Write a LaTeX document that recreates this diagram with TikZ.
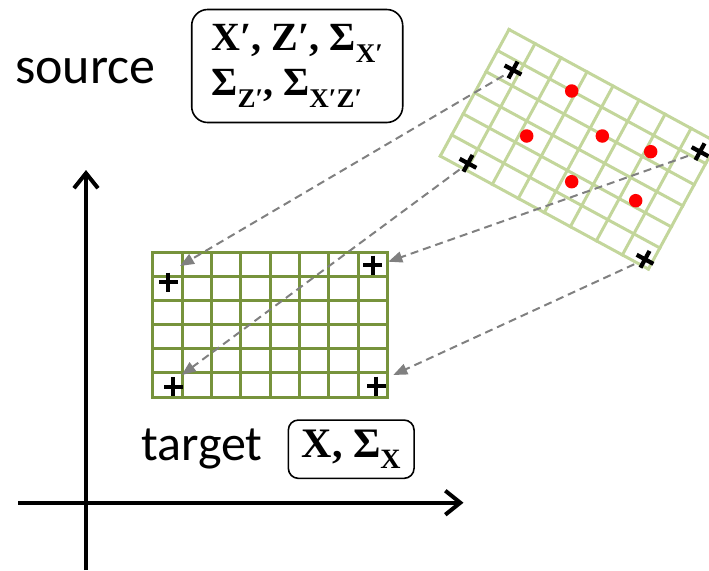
\documentclass[tikz,border=0pt]{standalone}
\usepackage{fontspec}
\setmainfont{Carlito}
\newfontfamily\tmsfont{Liberation Serif}
\usetikzlibrary{arrows.meta}
\definecolor{tgreen}{HTML}{77933C}
\definecolor{sgreen}{HTML}{C3D69B}
\definecolor{dgray}{HTML}{808080}
\definecolor{dotred}{HTML}{FF0000}
\newcommand\subx[2][27]{\raisebox{-0.28em}{\fontsize{#1}{#1}\selectfont #2}}
\begin{document}
\begin{tikzpicture}[x=1pt,y=-1pt,
  lbl/.style={inner sep=0pt},
  mbox/.style={draw, line width=1.6pt, inner sep=0pt},
  tgridline/.style={draw=tgreen, line width=3pt, line cap=rect},
  sgridline/.style={draw=sgreen, line width=3pt, line cap=rect},
  axis/.style={line width=4pt, -{Straight Barb[length=15pt, width=24pt]}},
  corr/.style={draw=dgray, line width=2pt, dash pattern=on 8pt off 5pt, -{Triangle[length=14pt, width=11pt]}},
  plusmark/.style={minimum size=19pt, inner sep=0pt, outer sep=0pt},
  plusline/.style={line width=4.2pt},
  reddot/.style={circle, fill=dotred, minimum size=13.5pt, inner sep=0pt}]
\useasboundingbox (0,0) rectangle (709,570);

% axes
\coordinate (ybot) at (86,570);
\coordinate (ytop) at (86,170);
\coordinate (xleft) at (18,502.7);
\coordinate (xright) at (463.5,502.7);
\draw[axis] (ybot) -- (ytop);
\draw[axis] (xleft) -- (xright);

% labels
\node[lbl, anchor=base west, font=\fontsize{52}{52}\selectfont] (src) at (15,83) {source};
\node[lbl, anchor=base west, font=\fontsize{50}{50}\selectfont] (tgt) at (141,460) {target};
\node[mbox, rounded corners=16pt, minimum width=211pt, minimum height=113pt, align=left,
      font=\tmsfont\bfseries\fontsize{40}{45}\selectfont] (sbox) at (297.2,66)
  {X′, Z′, Σ\subx{X′}\\Σ\subx{Z′}, Σ\subx{X′Z′}};
\node[mbox, rounded corners=10pt, minimum width=125.7pt, minimum height=58.3pt,
      font=\tmsfont\bfseries\fontsize{42}{45}\selectfont] (tbox) at (351.2,449.2)
  {X, Σ\subx[28]{X}};

% target grid
\begin{scope}[shift={(152.7,252.7)}, x=29.33pt, y=-24.05pt]
  \foreach \i in {0,...,8} \draw[tgridline] (\i,0) -- (\i,6);
  \foreach \j in {0,...,6} \draw[tgridline] (0,\j) -- (8,\j);
\end{scope}

% source grid (rotated)
\begin{scope}[shift={(509,29.5)}, rotate=-28.5, x=29.6pt, y=-24pt]
  \foreach \i in {0,...,8} \draw[sgridline] (\i,0) -- (\i,6);
  \foreach \j in {0,...,6} \draw[sgridline] (0,\j) -- (8,\j);
\end{scope}

% red points
\node[reddot] (p1) at (571.7,91) {};
\node[reddot] (p2) at (526.7,136) {};
\node[reddot] (p3) at (602.3,136) {};
\node[reddot] (p4) at (650.7,151.7) {};
\node[reddot] (p5) at (571.7,181.7) {};
\node[reddot] (p6) at (635.7,200.7) {};

% cross nodes
\node[plusmark, rotate=-28.5] (s1) at (513,70) {};
\node[plusmark, rotate=-28.5] (s2) at (468,163.3) {};
\node[plusmark, rotate=-28.5] (s3) at (700,151.7) {};
\node[plusmark, rotate=-28.5] (s4) at (645,259.3) {};
\node[plusmark] (c1) at (168,282) {};
\node[plusmark] (c2) at (372.7,265) {};
\node[plusmark] (c3) at (173.3,386.7) {};
\node[plusmark] (c4) at (376,386) {};

% arrow targets
\coordinate (t1) at (180,266);
\coordinate (t2) at (181.7,375);
\coordinate (t3) at (388.3,261.7);
\coordinate (t4) at (393.3,375);

% correspondence arrows
\draw[corr] (s1) -- (t1);
\draw[corr] (s2) -- (t2);
\draw[corr] (s3) -- (t3);
\draw[corr] (s4) -- (t4);

% draw crosses
\foreach \n in {s1,s2,s3,s4,c1,c2,c3,c4}
  \draw[plusline] (\n.north) -- (\n.south) (\n.east) -- (\n.west);
\end{tikzpicture}
\end{document}
